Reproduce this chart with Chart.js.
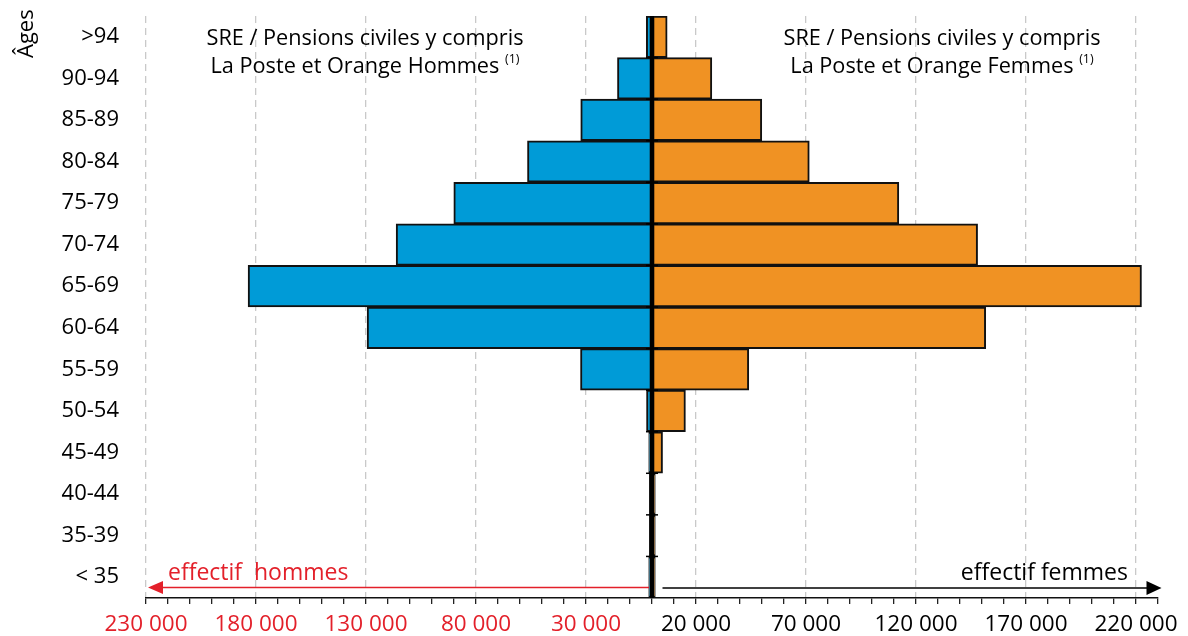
<!DOCTYPE html>
<html>
<head>
<meta charset="utf-8">
<script src="https://cdn.jsdelivr.net/npm/chart.js@4"></script>
<style>
html,body{margin:0;padding:0;background:#fff;}
#wrap{width:1188px;height:636px;position:relative;}
</style>
</head>
<body>
<div id="wrap"><canvas id="c" width="1188" height="636"></canvas></div>
<script>
const categories = ['>94','90-94','85-89','80-84','75-79','70-74','65-69','60-64','55-59','50-54','45-49','40-44','35-39','< 35'];
const hommes = [2600, 15700, 32400, 56600, 90100, 116300, 183600, 129500, 32500, 2500, 1500, 1200, 1200, 1500];
const femmes = [6900, 27200, 49900, 71500, 112200, 148000, 222500, 151700, 44000, 15200, 4800, 1500, 1500, 1500];
const majorTicks = [-230000, -180000, -130000, -80000, -30000, 20000, 70000, 120000, 170000, 220000];
const axisMin = -230000, axisMax = 230000, minorStep = 10000;

const FONT = '"Open Sans", "Noto Sans", sans-serif';
const RED = '#e3202a';
const BLUE = '#009bd7';
const ORANGE = '#f09223';

function fmt(v){
  return String(Math.abs(v)).replace(/\B(?=(\d{3})+(?!\d))/g, ' ');
}
function isMajor(v){ return majorTicks.indexOf(v) >= 0; }

const overlay = {
  id: 'overlay',
  afterDatasetsDraw(chart){
    const ctx = chart.ctx;
    const xs = chart.scales.x, ys = chart.scales.y;
    const ca = chart.chartArea;
    const x0 = xs.getPixelForValue(0);
    ctx.save();
    // center line
    ctx.strokeStyle = '#000';
    ctx.lineWidth = 4;
    ctx.beginPath();
    ctx.moveTo(x0, ca.top);
    ctx.lineTo(x0, ca.bottom);
    ctx.stroke();
    // small ticks at category boundaries
    ctx.lineWidth = 1.5;
    for (let i = 1; i < categories.length; i++) {
      const y = (ys.getPixelForValue(i - 1) + ys.getPixelForValue(i)) / 2;
      ctx.beginPath();
      ctx.moveTo(x0 - 6, y);
      ctx.lineTo(x0 + 6, y);
      ctx.stroke();
    }
    // arrows
    const ay = ca.bottom - 10.5;
    ctx.strokeStyle = RED; ctx.fillStyle = RED; ctx.lineWidth = 1.5;
    const rTip = xs.left + 2;
    ctx.beginPath(); ctx.moveTo(x0 - 3, ay); ctx.lineTo(rTip + 10, ay); ctx.stroke();
    ctx.beginPath(); ctx.moveTo(rTip, ay); ctx.lineTo(rTip + 15, ay - 6.5); ctx.lineTo(rTip + 15, ay + 6.5); ctx.closePath(); ctx.fill();
    ctx.strokeStyle = '#000'; ctx.fillStyle = '#000';
    const bTip = xs.right + 3.5;
    ctx.beginPath(); ctx.moveTo(x0 + 10.5, ay + 0.5); ctx.lineTo(bTip - 10, ay + 0.5); ctx.stroke();
    ctx.beginPath(); ctx.moveTo(bTip, ay + 0.5); ctx.lineTo(bTip - 15, ay - 6.5); ctx.lineTo(bTip - 15, ay + 7.5); ctx.closePath(); ctx.fill();

    // arrow texts
    ctx.font = '23px ' + FONT;
    ctx.textBaseline = 'alphabetic';
    ctx.fillStyle = RED; ctx.textAlign = 'left';
    ctx.fillText('effectif  hommes', 168, 580);
    ctx.fillStyle = '#000'; ctx.textAlign = 'right';
    ctx.fillText('effectif femmes', 1128, 580);

    // titles
    function title(cx, who){
      ctx.fillStyle = '#000';
      ctx.textAlign = 'left';
      ctx.font = '21.7px ' + FONT;
      const l1 = 'SRE / Pensions civiles y compris';
      const w1 = ctx.measureText(l1).width;
      ctx.fillText(l1, cx - w1 / 2, 45);
      const l2 = 'La Poste et Orange ' + who;
      const w2 = ctx.measureText(l2 + ' ').width;
      ctx.font = '12.5px ' + FONT;
      const ws = ctx.measureText('(1)').width;
      const start = cx - (w2 + ws) / 2;
      ctx.font = '21.7px ' + FONT;
      ctx.fillText(l2, start, 73);
      ctx.font = '12.5px ' + FONT;
      ctx.fillText('(1)', start + w2, 63);
    }
    title(365, 'Hommes');
    title(942, 'Femmes');

    // Âges
    ctx.save();
    ctx.translate(33, 58);
    ctx.rotate(-Math.PI / 2);
    ctx.font = '22px ' + FONT;
    ctx.fillStyle = '#000';
    ctx.textAlign = 'left';
    ctx.fillText('Âges', 0, 0);
    ctx.restore();
    ctx.restore();
  }
};

new Chart(document.getElementById('c'), {
  type: 'bar',
  data: {
    labels: categories,
    datasets: [
      { label: 'Hommes', data: hommes.map(v => -v), backgroundColor: BLUE, borderColor: '#111', borderWidth: 2, borderSkipped: false, barPercentage: 1, categoryPercentage: 1 },
      { label: 'Femmes', data: femmes, backgroundColor: ORANGE, borderColor: '#111', borderWidth: 2, borderSkipped: false, barPercentage: 1, categoryPercentage: 1 }
    ]
  },
  options: {
    indexAxis: 'y',
    responsive: false,
    animation: false,
    layout: { padding: { top: 16, right: 30, bottom: 0, left: 0 } },
    plugins: { legend: { display: false }, tooltip: { enabled: false } },
    scales: {
      x: {
        type: 'linear',
        stacked: true,
        min: axisMin, max: axisMax,
        afterBuildTicks(scale){
          const t = [];
          for (let v = axisMin; v <= axisMax; v += minorStep) t.push({ value: v });
          scale.ticks = t;
        },
        afterFit(scale){ scale.height = 38; scale.paddingTop = 0; scale.paddingBottom = 0; scale.paddingLeft = 0; scale.paddingRight = 0; },
        ticks: {
          autoSkip: false, maxRotation: 0, minRotation: 0,
          padding: 7,
          font: { family: FONT, size: 22.5 },
          color: (c) => (c.tick && c.tick.value < 0) ? RED : '#000',
          callback: (v) => isMajor(v) ? fmt(v) : ''
        },
        grid: {
          display: true,
          drawOnChartArea: true,
          color: (c) => (c.tick && isMajor(c.tick.value)) ? '#c9c9c9' : 'rgba(0,0,0,0)',
          lineWidth: 1.3,
          tickColor: '#222',
          tickLength: 6,
          tickWidth: 1.3
        },
        border: { display: true, color: '#111', width: 1.5, dash: [7, 5] }
      },
      y: {
        stacked: true,
        afterFit(scale){ scale.width = 146; scale.paddingTop = 0; scale.paddingBottom = 0; scale.paddingLeft = 0; scale.paddingRight = 0; },
        grid: { display: false, drawTicks: false },
        border: { display: false },
        ticks: { padding: 27, color: '#000', font: { family: FONT, size: 22 } }
      }
    }
  },
  plugins: [overlay]
});
</script>
</body>
</html>
